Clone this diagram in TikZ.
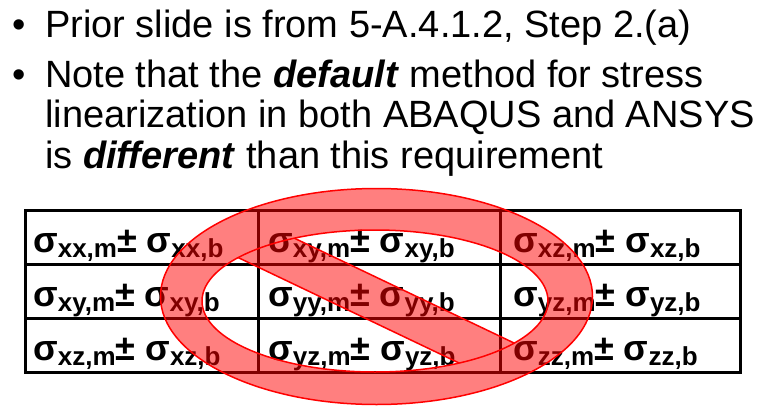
\documentclass[tikz,border=0pt]{standalone}
\usepackage{fontspec}
\setmainfont{Liberation Sans}
\begin{document}
\begin{tikzpicture}[x=1pt,y=-1pt,
  btxt/.style={anchor=base west,inner sep=0,font=\fontsize{38}{44}\selectfont},
  cell/.style={anchor=base west,inner sep=0,font=\fontsize{36}{40}\selectfont\bfseries},
  grid/.style={line width=3pt},
  nosign/.style={fill=red,fill opacity=0.5,draw=red,draw opacity=1,line width=1.5pt}]
\useasboundingbox (0,0) rectangle (775,417);
\newcommand{\sg}[1]{σ\raisebox{-0.3ex}{\fontsize{26}{26}\selectfont #1}}
\node[btxt] (b1) at (12,38) {•};
\node[btxt] (t1) at (45,38) {Prior slide is from 5-A.4.1.2, Step 2.(a)};
\node[btxt] (b2) at (12,88) {•};
\node[btxt] (t2) at (45,88) {Note that the \textbf{\textit{default}} method for stress};
\node[btxt] (t3) at (45,128) {linearization in both ABAQUS and ANSYS};
\node[btxt] (t4) at (45,168) {is \textbf{\textit{different}} than this requirement};
% table
\draw[grid] (25,210) rectangle (740,372);
\draw[grid] (25,264) -- (740,264) (25,318) -- (740,318);
\draw[grid] (258,210) -- (258,372) (500,210) -- (500,372);
\node[cell] (c11) at (33,252) {\sg{xx,m}± \sg{xx,b}};
\node[cell] (c12) at (268,252) {\sg{xy,m}± \sg{xy,b}};
\node[cell] (c13) at (513,252) {\sg{xz,m}± \sg{xz,b}};
\node[cell] (c21) at (33,306) {\sg{xy,m}± \sg{xy,b}};
\node[cell] (c22) at (268,306) {\sg{yy,m}± \sg{yy,b}};
\node[cell] (c23) at (513,306) {\sg{yz,m}± \sg{yz,b}};
\node[cell] (c31) at (33,360) {\sg{xz,m}± \sg{xz,b}};
\node[cell] (c32) at (268,360) {\sg{yz,m}± \sg{yz,b}};
\node[cell] (c33) at (513,360) {\sg{zz,m}± \sg{zz,b}};
% prohibition sign
\path[nosign,even odd rule] (376.5,296.5) ellipse [x radius=216,y radius=108]
  (375,301) ellipse [x radius=173,y radius=71];
\begin{scope}
\clip (375,301) ellipse [x radius=173,y radius=71];
\path[nosign] (128,205) -- (185,186) -- (623,395) -- (568,415) -- cycle;
\end{scope}
\end{tikzpicture}
\end{document}
